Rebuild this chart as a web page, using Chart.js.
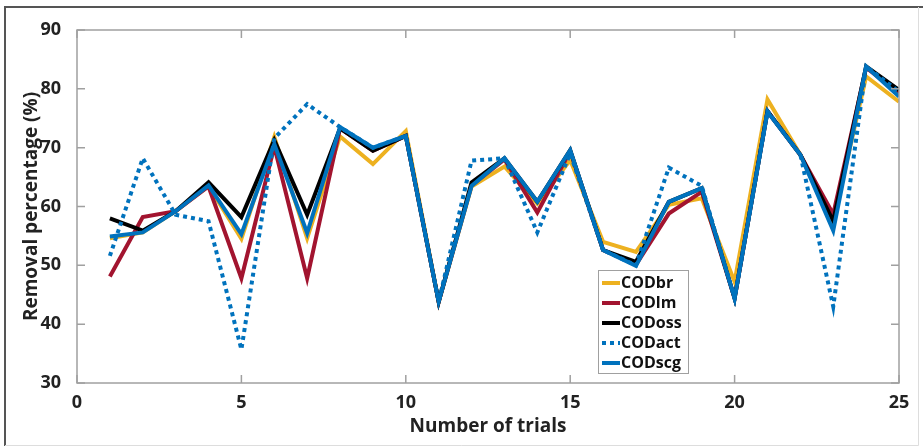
<!DOCTYPE html>
<html>
<head>
<meta charset="utf-8">
<script src="https://cdn.jsdelivr.net/npm/chart.js@4.4.1/dist/chart.umd.min.js"></script>
<style>
    html, body { margin: 0; padding: 0; background: #fff; }
    #wrap { position: relative; width: 923px; height: 446px; }
</style>
</head>
<body>
<div id="wrap"><canvas id="codChart"></canvas></div>
<script>
// Removal percentage per trial for each model
const trials = [1, 2, 3, 4, 5, 6, 7, 8, 9, 10, 11, 12, 13, 14, 15, 16, 17, 18, 19, 20, 21, 22, 23, 24, 25];
const codBr  = [54.6, 55.6, 59.2, 63.5, 54.5, 71.8, 54.6, 71.9, 67.2, 72.8, 43.8, 63.4, 66.8, 60.5, 67.9, 54.0, 52.3, 60.3, 61.4, 47.2, 78.2, 68.8, 57.5, 82.1, 77.8];
const codLm  = [48.1, 58.2, 59.2, 63.4, 47.8, 70.2, 47.8, 73.3, 69.5, 72.0, 43.8, 63.6, 68.0, 59.0, 69.4, 52.6, 50.1, 58.8, 62.5, 44.4, 76.2, 68.8, 58.7, 83.6, 79.3];
const codOss = [58.0, 55.9, 59.2, 64.1, 58.2, 71.3, 58.6, 73.3, 69.5, 72.0, 43.8, 64.1, 68.2, 60.8, 69.6, 52.6, 50.6, 60.8, 63.1, 44.4, 76.2, 68.8, 57.5, 83.8, 79.8];
const codAct = [51.6, 68.2, 58.6, 57.5, 35.7, 71.6, 77.4, 73.5, 70.0, 72.0, 43.8, 67.8, 68.2, 55.6, 69.0, 52.6, 50.0, 66.6, 63.5, 44.4, 76.2, 68.8, 43.0, 83.8, 79.5];
const codScg = [54.9, 55.6, 59.2, 63.6, 55.3, 70.6, 55.5, 73.5, 70.0, 72.0, 43.8, 63.5, 68.2, 60.8, 69.6, 52.6, 49.9, 60.8, 63.1, 44.4, 76.1, 68.8, 55.9, 83.8, 78.7];

const seriesNames = ['CODbr', 'CODlm', 'CODoss', 'CODact', 'CODscg'];
const seriesData = [codBr, codLm, codOss, codAct, codScg];
const seriesColors = ['#EDB120', '#A2142F', '#000000', '#0072BD', '#0072BD'];

const FONT = "'Open Sans', 'DejaVu Sans', sans-serif";

function toPoints(values) {
    return values.map(function(v, i) { return { x: trials[i], y: v }; });
}

const datasets = seriesNames.map(function(name, i) {
    return {
        label: name,
        data: toPoints(seriesData[i]),
        borderColor: seriesColors[i],
        borderWidth: 4,
        borderDash: name === 'CODact' ? [4, 4] : [],
        pointRadius: 0,
        tension: 0,
        fill: false,
        order: seriesNames.length - i   // later series on top
    };
});

// Frame, axes box with inward ticks (both sides)
const boxPlugin = {
    id: 'boxPlugin',
    beforeDraw: function(chart) {
        const ctx = chart.ctx;
        ctx.save();
        ctx.fillStyle = '#fff';
        ctx.fillRect(0, 0, chart.width, chart.height);
        // outer frame
        ctx.strokeStyle = '#555';
        ctx.lineWidth = 2;
        ctx.beginPath();
        ctx.moveTo(5, chart.height);
        ctx.lineTo(5, 7);
        ctx.lineTo(chart.width, 7);
        ctx.stroke();
        ctx.strokeStyle = '#ddd';
        ctx.lineWidth = 1;
        ctx.beginPath();
        ctx.moveTo(918.5, 7);
        ctx.lineTo(918.5, 445.5);
        ctx.lineTo(5, 445.5);
        ctx.stroke();
        ctx.restore();
    },
    afterDatasetsDraw: function(chart) {
        const ctx = chart.ctx;
        const a = chart.chartArea;
        const xs = chart.scales.x;
        const ys = chart.scales.y;
        const len = 8;
        ctx.save();
        ctx.strokeStyle = '#a0a0a0';
        ctx.lineWidth = 1.5;
        ctx.strokeRect(a.left, a.top, a.right - a.left, a.bottom - a.top);
        ctx.beginPath();
        xs.ticks.forEach(function(t) {
            const px = xs.getPixelForValue(t.value);
            ctx.moveTo(px, a.bottom); ctx.lineTo(px, a.bottom - len);
            ctx.moveTo(px, a.top); ctx.lineTo(px, a.top + len);
        });
        ys.ticks.forEach(function(t) {
            const py = ys.getPixelForValue(t.value);
            ctx.moveTo(a.left, py); ctx.lineTo(a.left + len, py);
            ctx.moveTo(a.right, py); ctx.lineTo(a.right - len, py);
        });
        ctx.stroke();
        ctx.restore();
    }
};

// Legend box inside the plot area
const legendPlugin = {
    id: 'insideLegend',
    afterDraw: function(chart) {
        const ctx = chart.ctx;
        const x0 = 598, y0 = 270, w = 90, h = 103;
        ctx.save();
        ctx.fillStyle = '#fff';
        ctx.fillRect(x0, y0, w, h);
        ctx.strokeStyle = '#a0a0a0';
        ctx.lineWidth = 1;
        ctx.strokeRect(x0 + 0.5, y0 + 0.5, w, h);
        ctx.font = 'bold 16px ' + FONT;
        ctx.textBaseline = 'middle';
        ctx.fillStyle = '#111';
        chart.data.datasets.forEach(function(ds, i) {
            const cy = y0 + 13 + i * 20;
            ctx.strokeStyle = ds.borderColor;
            ctx.lineWidth = 4;
            ctx.setLineDash(ds.borderDash || []);
            ctx.beginPath();
            ctx.moveTo(x0 + 4, cy);
            ctx.lineTo(x0 + 22, cy);
            ctx.stroke();
            ctx.setLineDash([]);
            ctx.fillText(ds.label, x0 + 23, cy);
        });
        ctx.restore();
    }
};

new Chart(document.getElementById('codChart'), {
    type: 'line',
    data: { datasets: datasets },
    plugins: [boxPlugin, legendPlugin],
    options: {
        responsive: true,
        maintainAspectRatio: false,
        animation: false,
        layout: { padding: { left: 20, right: 24, top: 30, bottom: 8 } },
        plugins: {
            legend: { display: false },
            tooltip: { enabled: false }
        },
        scales: {
            x: {
                type: 'linear',
                min: 0,
                max: 25,
                afterFit: function(scale) { scale.height = 55; },
                grid: { display: false },
                border: { display: false },
                ticks: {
                    stepSize: 5,
                    padding: 1,
                    color: '#222',
                    font: { family: FONT, size: 18, weight: 'bold' }
                },
                title: {
                    display: true,
                    text: 'Number of trials',
                    color: '#222',
                    padding: { top: 0, bottom: 0 },
                    font: { family: FONT, size: 19, weight: 'bold' }
                }
            },
            y: {
                min: 30,
                max: 90,
                afterFit: function(scale) { scale.width = 57; },
                grid: { display: false },
                border: { display: false },
                ticks: {
                    stepSize: 10,
                    padding: 8,
                    color: '#222',
                    font: { family: FONT, size: 18, weight: 'bold' }
                },
                title: {
                    display: true,
                    text: 'Removal percentage (%)',
                    color: '#222',
                    padding: { top: 0, bottom: 2 },
                    font: { family: FONT, size: 19, weight: 'bold' }
                }
            }
        }
    }
});
</script>
</body>
</html>
